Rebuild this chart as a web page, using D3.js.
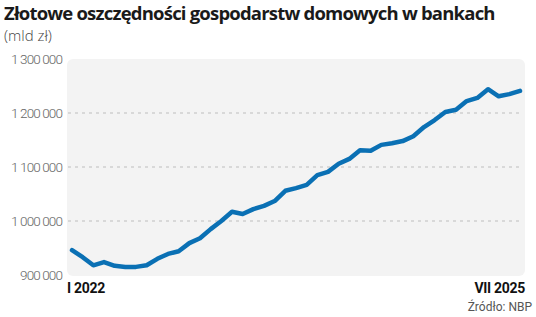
<!DOCTYPE html>
<html>
<head>
<meta charset="utf-8">
<script src="https://cdn.jsdelivr.net/npm/d3@7"></script>
<style>
  body { margin: 0; background: #fff; }
  svg { display: block; }
</style>
</head>
<body>
<svg width="536" height="317"></svg>
<script>
// monthly, I 2022 .. VII 2025 (mld zl, as printed on axis)
const months = d3.range(43);
const savings = [
  946000, 933000, 918000, 924000, 917000, 915000, 915000, 918000, 930000, 939000,
  944000, 959000, 968000, 985000, 1000000, 1017000, 1013000, 1022000, 1028000, 1037000,
  1056000, 1061000, 1067000, 1085000, 1091000, 1106000, 1115000, 1131000, 1130000, 1141000,
  1144000, 1148000, 1157000, 1174000, 1187000, 1202000, 1206000, 1222000, 1228000, 1244000,
  1231000, 1235000, 1241000
];
const yTicks = [900000, 1000000, 1100000, 1200000, 1300000];
const xLabels = ["I 2022", "VII 2025"];

const svg = d3.select("svg");

svg.append("text")
  .attr("x", 4).attr("y", 20)
  .attr("font-family", "Open Sans").attr("font-weight", 700)
  .attr("font-size", 18.5).attr("fill", "#1a1a1a")
  .attr("letter-spacing", -0.8)
  .text("Złotowe oszczędności gospodarstw domowych w bankach");

svg.append("text")
  .attr("x", 4).attr("y", 41)
  .attr("font-family", "Open Sans").attr("font-weight", 300)
  .attr("font-size", 15).attr("fill", "#444")
  .text("(mld zł)");

const x = d3.scaleLinear().domain([0, 42]).range([72, 520]);
const y = d3.scaleLinear().domain([900000, 1300000]).range([275, 59]);

svg.append("rect")
  .attr("x", 67).attr("y", 59).attr("width", 458).attr("height", 217)
  .attr("rx", 6).attr("fill", "#f3f3f3");

const fmt = v => d3.format(",")(v).replace(/,/g, " ");

svg.append("g")
  .selectAll("line")
  .data(yTicks.filter(t => t > 900000 && t < 1300000))
  .join("line")
  .attr("x1", 68).attr("x2", 520)
  .attr("y1", d => y(d)).attr("y2", d => y(d))
  .attr("stroke", "#bdbdbd").attr("stroke-dasharray", "3,4");

svg.append("g")
  .selectAll("text")
  .data(yTicks)
  .join("text")
  .attr("x", 62).attr("y", d => y(d) + 4.5)
  .attr("text-anchor", "end")
  .attr("font-family", "Roboto").attr("font-weight", 300)
  .attr("font-size", 13.5).attr("fill", "#666")
  .attr("letter-spacing", -0.9)
  .text(fmt);

svg.append("path")
  .datum(savings)
  .attr("fill", "none")
  .attr("stroke", "#0a70b4")
  .attr("stroke-width", 4.5)
  .attr("stroke-linejoin", "round")
  .attr("stroke-linecap", "round")
  .attr("d", d3.line().x((d, i) => x(months[i])).y(d => y(d)));

svg.append("text")
  .attr("x", 67).attr("y", 293)
  .attr("font-family", "Roboto").attr("font-weight", 700)
  .attr("font-size", 14).attr("fill", "#111")
  .attr("letter-spacing", -0.3)
  .text(xLabels[0]);

svg.append("text")
  .attr("x", 525).attr("y", 293)
  .attr("text-anchor", "end")
  .attr("font-family", "Roboto").attr("font-weight", 700)
  .attr("font-size", 14).attr("fill", "#111")
  .attr("letter-spacing", -0.3)
  .text(xLabels[1]);

svg.append("text")
  .attr("x", 532).attr("y", 311)
  .attr("text-anchor", "end")
  .attr("font-family", "Roboto")
  .attr("font-size", 12).attr("fill", "#555")
  .text("Źródło: NBP");
</script>
</body>
</html>
